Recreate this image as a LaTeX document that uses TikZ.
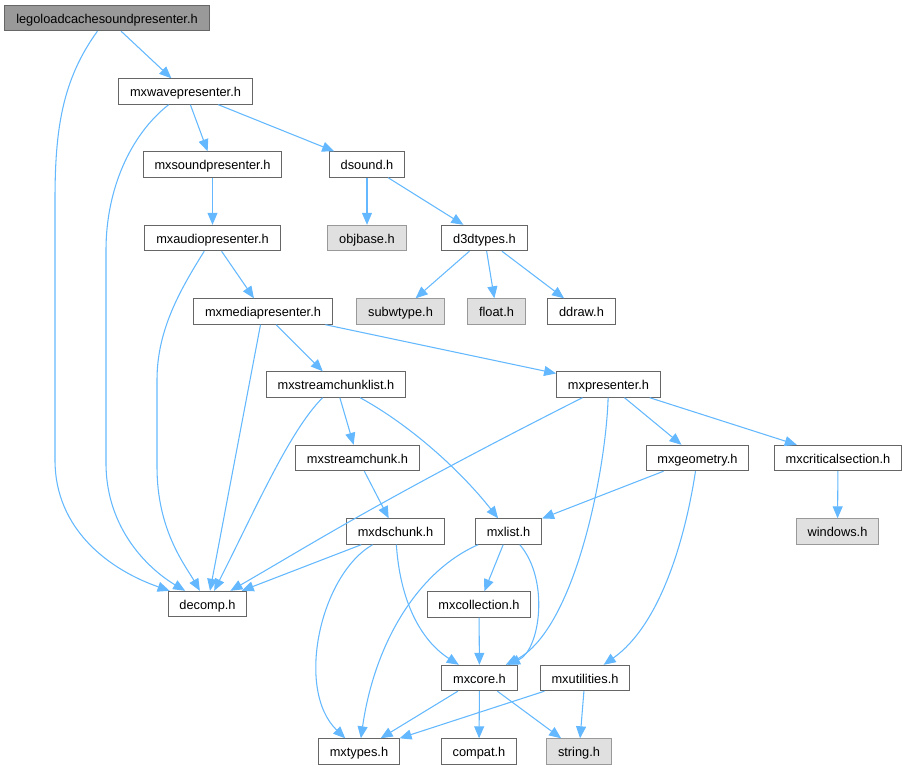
\documentclass[tikz,border=0pt]{standalone}
\usepackage{fontspec}
\setmainfont{Liberation Sans}
\usepackage{tikz}
\usetikzlibrary{arrows.meta}

\definecolor{edgeblue}{HTML}{63B8FF}
\definecolor{boxline}{HTML}{666666}
\definecolor{rootfill}{HTML}{999999}
\definecolor{extfill}{HTML}{E0E0E0}
\definecolor{extline}{HTML}{999999}

\tikzset{
  hdr/.style={draw=boxline, fill=white, line width=0.8pt, minimum height=19pt,
    inner xsep=8.5pt, inner ysep=0pt, text height=9pt, text depth=1pt,
    font=\fontsize{9.6}{11}\selectfont},
  roothdr/.style={hdr, fill=rootfill},
  exthdr/.style={hdr, draw=extline, fill=extfill},
  dep/.style={draw=edgeblue, line width=0.8pt, -{Triangle[length=9pt,width=7.5pt]}}
}

\begin{document}
\begin{tikzpicture}[x=0.75pt,y=0.75pt,yscale=-1,xscale=1]
\useasboundingbox (0,0) rectangle (908,769);

% Header nodes
\node [roothdr] (lego) at (107,18) {legoloadcachesoundpresenter.h};
\node [hdr] (wave) at (185.5,91.5) {mxwavepresenter.h};
\node [hdr] (sound) at (212.5,164.5) {mxsoundpresenter.h};
\node [hdr] (dsound) at (367,164.5) {dsound.h};
\node [hdr] (audio) at (212.5,238) {mxaudiopresenter.h};
\node [exthdr] (objbase) at (367,238) {objbase.h};
\node [hdr] (d3d) at (484.5,238) {d3dtypes.h};
\node [hdr] (media) at (263,311.5) {mxmediapresenter.h};
\node [exthdr] (subw) at (400.5,311.5) {subwtype.h};
\node [exthdr] (float) at (496.5,311.5) {float.h};
\node [hdr] (ddraw) at (581.5,311.5) {ddraw.h};
\node [hdr] (sclist) at (336,384.5) {mxstreamchunklist.h};
\node [hdr] (pres) at (608.5,384.5) {mxpresenter.h};
\node [hdr] (schunk) at (357.5,458) {mxstreamchunk.h};
\node [hdr] (geom) at (697.5,458) {mxgeometry.h};
\node [hdr] (crit) at (838,458) {mxcriticalsection.h};
\node [hdr] (ds) at (395.5,531.5) {mxdschunk.h};
\node [hdr] (list) at (508.5,531.5) {mxlist.h};
\node [exthdr] (win) at (837.5,531.5) {windows.h};
\node [hdr] (decomp) at (207.5,604) {decomp.h};
\node [hdr] (coll) at (479,604.5) {mxcollection.h};
\node [hdr] (core) at (479.5,678) {mxcore.h};
\node [hdr] (util) at (585,678) {mxutilities.h};
\node [hdr] (types) at (359,751.5) {mxtypes.h};
\node [hdr] (compat) at (479,751.5) {compat.h};
\node [exthdr] (string) at (579,751.5) {string.h};

% Straight includes
\draw [dep] (lego) -- (wave);
\draw [dep] (wave) -- (sound);
\draw [dep] (wave) -- (dsound);
\draw [dep] (sound) -- (audio);
\draw [dep] (dsound) -- (objbase);
\draw [dep] (dsound) -- (d3d);
\draw [dep] (audio) -- (media);
\draw [dep] (d3d) -- (subw);
\draw [dep] (d3d) -- (float);
\draw [dep] (d3d) -- (ddraw);
\draw [dep] (media) -- (sclist);
\draw [dep] (media) -- (pres);
\draw [dep] (media) -- (decomp);
\draw [dep] (sclist) -- (schunk);
\draw [dep] (pres) -- (geom);
\draw [dep] (pres) -- (crit);
\draw [dep] (schunk) -- (ds);
\draw [dep] (geom) -- (list);
\draw [dep] (crit) -- (win);
\draw [dep] (ds) -- (decomp);
\draw [dep] (list) -- (coll);
\draw [dep] (coll) -- (core);
\draw [dep] (core) -- (types);
\draw [dep] (core) -- (compat);
\draw [dep] (core) -- (string);
\draw [dep] (util) -- (types);
\draw [dep] (util) -- (string);

% Curved includes
\draw [dep] (lego) .. controls (62,80) and (55,130) .. (55,200) -- (55,460) .. controls (55,530) and (110,570) .. (decomp);
\draw [dep] (wave) .. controls (130,135) and (106,190) .. (106,250) -- (106,463) .. controls (106,530) and (150,570) .. (decomp);
\draw [dep] (audio) .. controls (180,290) and (157,330) .. (157,380) -- (157,467) .. controls (157,530) and (185,565) .. (decomp);
\draw [dep] (sclist) .. controls (290,430) and (255,510) .. (decomp);
\draw [dep] (pres) .. controls (380,500) and (310,545) .. (decomp);
\draw [dep] (sclist) .. controls (410,425) and (460,470) .. (list);
\draw [dep] (pres) .. controls (606,470) and (575,630) .. (core);
\draw [dep] (list) .. controls (550,580) and (540,650) .. (core);
\draw [dep] (list) .. controls (420,570) and (375,640) .. (types);
\draw [dep] (ds) .. controls (320,575) and (295,690) .. (types);
\draw [dep] (ds) .. controls (400,600) and (420,640) .. (core);
\draw [dep] (geom) .. controls (685,540) and (660,625) .. (util);

\end{tikzpicture}
\end{document}
